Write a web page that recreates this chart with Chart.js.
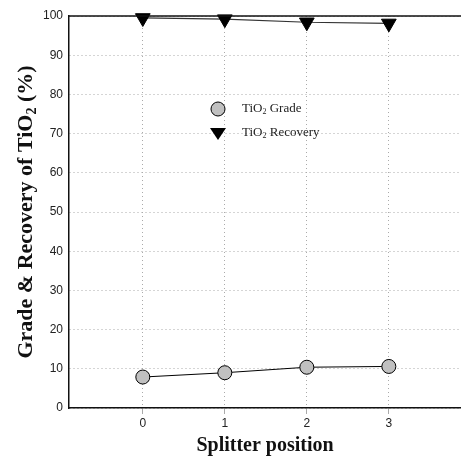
<!DOCTYPE html>
<html>
<head>
<meta charset="utf-8">
<script src="https://cdn.jsdelivr.net/npm/chart.js@4.4.1/dist/chart.umd.min.js"></script>
<style>
  html, body { margin: 0; padding: 0; background: #fff; }
  #wrap { width: 461px; height: 461px; }
</style>
</head>
<body>
<div id="wrap"><canvas id="chart" width="461" height="461"></canvas></div>
<script>
// splitter positions and measured values (%)
const positions = [0, 1, 2, 3];
const gradeTiO2 = [7.9, 9.0, 10.4, 10.6];
const recoveryTiO2 = [99.5, 99.2, 98.4, 98.1];
const yTicks = [0, 10, 20, 30, 40, 50, 60, 70, 80, 90, 100];

const serif = "'Liberation Serif', 'Times New Roman', serif";
const sans = "'Liberation Sans', Arial, sans-serif";

// draws text with a "2" subscript after "TiO"
function drawTiO2Text(ctx, before, after, x, y, size, bold) {
  const w = bold ? "bold " : "";
  ctx.font = `${w}${size}px ${serif}`;
  ctx.textBaseline = "alphabetic";
  ctx.textAlign = "left";
  ctx.fillText(before, x, y);
  let cx = x + ctx.measureText(before).width;
  ctx.font = `${w}${Math.round(size * 0.62)}px ${serif}`;
  ctx.fillText("2", cx, y + size * 0.18);
  cx += ctx.measureText("2").width;
  ctx.font = `${w}${size}px ${serif}`;
  ctx.fillText(after, cx, y);
  return cx + ctx.measureText(after).width - x;
}

function measureTiO2(ctx, before, after, size, bold) {
  const w = bold ? "bold " : "";
  ctx.font = `${w}${size}px ${serif}`;
  let t = ctx.measureText(before).width + ctx.measureText(after).width;
  ctx.font = `${w}${Math.round(size * 0.62)}px ${serif}`;
  return t + ctx.measureText("2").width;
}

const decorPlugin = {
  id: "decor",
  afterDraw(chart) {
    const { ctx, chartArea } = chart;
    ctx.save();
    // top frame line
    ctx.strokeStyle = "#111";
    ctx.lineWidth = 1.5;
    ctx.beginPath();
    ctx.moveTo(chartArea.left, chartArea.top);
    ctx.lineTo(chartArea.right, chartArea.top);
    ctx.stroke();

    ctx.fillStyle = "#111";
    // x title
    ctx.font = `bold 20px ${serif}`;
    ctx.textAlign = "center";
    ctx.textBaseline = "alphabetic";
    ctx.fillText("Splitter position", 265, 451);

    // y title, rotated
    const yMid = (chartArea.top + chartArea.bottom) / 2;
    ctx.translate(32, yMid);
    ctx.rotate(-Math.PI / 2);
    const tw = measureTiO2(ctx, "Grade & Recovery of TiO", " (%)", 22, true);
    drawTiO2Text(ctx, "Grade & Recovery of TiO", " (%)", -tw / 2, 0, 22, true);
    ctx.restore();

    // legend
    ctx.save();
    const lx = 218, ly1 = 109, ly2 = 133;
    ctx.fillStyle = "#c0c0c0";
    ctx.strokeStyle = "#000";
    ctx.lineWidth = 1;
    ctx.beginPath();
    ctx.arc(lx, ly1, 7, 0, Math.PI * 2);
    ctx.fill();
    ctx.stroke();
    ctx.fillStyle = "#000";
    ctx.beginPath();
    ctx.moveTo(lx - 8, ly2 - 5);
    ctx.lineTo(lx + 8, ly2 - 5);
    ctx.lineTo(lx, ly2 + 7);
    ctx.closePath();
    ctx.fill();
    ctx.fillStyle = "#222";
    drawTiO2Text(ctx, "TiO", " Grade", 242, 112, 13, false);
    drawTiO2Text(ctx, "TiO", " Recovery", 242, 136, 13, false);
    ctx.restore();
  }
};

new Chart(document.getElementById("chart"), {
  type: "line",
  data: {
    datasets: [
      {
        label: "TiO2 Grade",
        data: positions.map((p, i) => ({ x: p, y: gradeTiO2[i] })),
        borderColor: "#000",
        borderWidth: 1,
        pointStyle: "circle",
        pointRadius: 7,
        pointBackgroundColor: "#c0c0c0",
        pointBorderColor: "#000",
        pointBorderWidth: 1
      },
      {
        label: "TiO2 Recovery",
        data: positions.map((p, i) => ({ x: p, y: recoveryTiO2[i] })),
        borderColor: "#333",
        borderWidth: 1.2,
        pointStyle: "triangle",
        rotation: 180,
        pointRadius: 8.5,
        pointBackgroundColor: "#000",
        pointBorderColor: "#000",
        pointBorderWidth: 1
      }
    ]
  },
  options: {
    responsive: false,
    animation: false,
    clip: false,
    layout: { autoPadding: false, padding: { top: 16, right: 0, left: 0, bottom: 0 } },
    plugins: {
      legend: { display: false },
      tooltip: { enabled: false }
    },
    scales: {
      x: {
        type: "linear",
        min: -0.9,
        max: 3.88,
        afterBuildTicks: (s) => { s.ticks = positions.map((v) => ({ value: v })); },
        afterFit: (s) => { s.height = 53; },
        border: { color: "#111", width: 1.5, dash: [1, 3] },
        grid: {
          color: "#aaa",
          lineWidth: 1,
          tickLength: 6
        },
        ticks: { color: "#222", font: { family: sans, size: 12 }, padding: 2 }
      },
      y: {
        min: 0,
        max: 100,
        afterBuildTicks: (s) => { s.ticks = yTicks.map((v) => ({ value: v })); },
        afterFit: (s) => { s.width = 69; },
        border: { color: "#111", width: 1.5, dash: [1, 3] },
        grid: { color: "#aaa", lineWidth: 1, drawTicks: false },
        ticks: { color: "#222", font: { family: sans, size: 12 }, padding: 6 }
      }
    }
  },
  plugins: [decorPlugin]
});
</script>
</body>
</html>
